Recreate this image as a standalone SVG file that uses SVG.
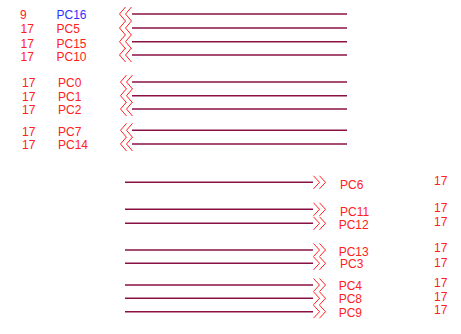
<svg xmlns="http://www.w3.org/2000/svg" width="461" height="334" viewBox="0 0 461 334">
<style>
text{font-family:"Liberation Sans",Arial,sans-serif;font-size:12px;fill:#ff2020}
.b{fill:#3030ff}
.w{stroke:#8a1044;stroke-width:1.4;fill:none}
.c{stroke:#ff2020;stroke-width:1;fill:none}
</style>
<defs>
<path id="L" class="c" d="M125.5,-7 L119.5,0 L125.5,7 M131.5,-7 L125.5,0 L131.5,7"/>
<path id="R" class="c" d="M313.5,-6.5 L319.5,0 L313.5,6.5 M319.5,-6.5 L325.5,0 L319.5,6.5"/>
</defs>
<g id="connectors">
<line class="w" x1="132" y1="14" x2="347" y2="14"/>
<line class="w" x1="132" y1="28" x2="347" y2="28"/>
<line class="w" x1="132" y1="41.7" x2="347" y2="41.7"/>
<line class="w" x1="132" y1="55" x2="347" y2="55"/>
<line class="w" x1="132" y1="82" x2="347" y2="82"/>
<line class="w" x1="132" y1="95.7" x2="347" y2="95.7"/>
<line class="w" x1="132" y1="109" x2="347" y2="109"/>
<line class="w" x1="132" y1="130.3" x2="347" y2="130.3"/>
<line class="w" x1="132" y1="144" x2="347" y2="144"/>
<line class="w" x1="125" y1="182.3" x2="313" y2="182.3"/>
<line class="w" x1="125" y1="209.3" x2="313" y2="209.3"/>
<line class="w" x1="125" y1="223.3" x2="313" y2="223.3"/>
<line class="w" x1="125" y1="250" x2="313" y2="250"/>
<line class="w" x1="125" y1="263.3" x2="313" y2="263.3"/>
<line class="w" x1="125" y1="285" x2="313" y2="285"/>
<line class="w" x1="125" y1="298.3" x2="313" y2="298.3"/>
<line class="w" x1="125" y1="311.7" x2="313" y2="311.7"/>
</g>
<g id="PC16"><use href="#L" y="14"/><text x="20" y="19">9</text><text class="b" x="56.5" y="19">PC16</text></g>
<g id="PC5"><use href="#L" y="28"/><text x="20.5" y="32.7">17</text><text x="56.5" y="32.7">PC5</text></g>
<g id="PC15"><use href="#L" y="41.7"/><text x="20.5" y="47.5">17</text><text x="56.5" y="47.5">PC15</text></g>
<g id="PC10"><use href="#L" y="55"/><text x="20.5" y="60.7">17</text><text x="56.5" y="60.7">PC10</text></g>
<g id="PC0"><use href="#L" x="1" y="82"/><text x="22" y="87.3">17</text><text x="58" y="87.3">PC0</text></g>
<g id="PC1"><use href="#L" x="1" y="95.7"/><text x="22" y="100.7">17</text><text x="58" y="100.7">PC1</text></g>
<g id="PC2"><use href="#L" x="1" y="109"/><text x="22" y="114">17</text><text x="58" y="114">PC2</text></g>
<g id="PC7"><use href="#L" x="1" y="130.3"/><text x="22" y="135.7">17</text><text x="58" y="135.7">PC7</text></g>
<g id="PC14"><use href="#L" x="1" y="144"/><text x="22" y="149">17</text><text x="58" y="149">PC14</text></g>
<g id="PC6"><use href="#R" y="182.3"/><text x="340" y="189">PC6</text><text x="434" y="185">17</text></g>
<g id="PC11"><use href="#R" y="209.3"/><text x="340" y="215.7">PC11</text><text x="434" y="212.3">17</text></g>
<g id="PC12"><use href="#R" y="223.3"/><text x="338.7" y="229.3">PC12</text><text x="434" y="225.7">17</text></g>
<g id="PC13"><use href="#R" y="250"/><text x="338.7" y="255.7">PC13</text><text x="434" y="252.3">17</text></g>
<g id="PC3"><use href="#R" y="263.3"/><text x="340" y="268.3">PC3</text><text x="434" y="266.7">17</text></g>
<g id="PC4"><use href="#R" y="285"/><text x="338.7" y="290">PC4</text><text x="434" y="287.3">17</text></g>
<g id="PC8"><use href="#R" y="298.3"/><text x="338.7" y="303.3">PC8</text><text x="434" y="301">17</text></g>
<g id="PC9"><use href="#R" y="311.7"/><text x="338.7" y="316.7">PC9</text><text x="434" y="314.3">17</text></g>
</svg>
